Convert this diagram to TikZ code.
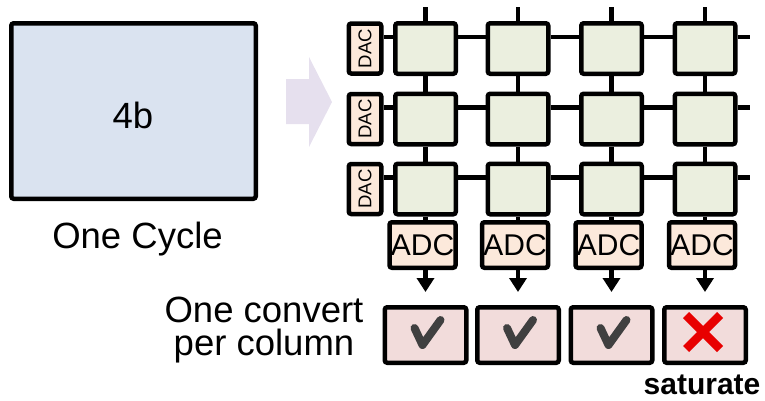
\documentclass[tikz,border=0pt]{standalone}
\usepackage{fontspec}
\setmainfont{Liberation Sans}
\usetikzlibrary{arrows.meta}

\definecolor{wordfill}{HTML}{DAE3F0}
\definecolor{flowfill}{HTML}{E6E0EE}
\definecolor{cellfill}{HTML}{EBEFDF}
\definecolor{convfill}{HTML}{FCE9DB}
\definecolor{resfill}{HTML}{F2DCDB}
\definecolor{okgray}{HTML}{404040}
\definecolor{badred}{HTML}{E80000}

\tikzset{
  box/.style={draw=black, line width=4.5pt, rounded corners=2.5pt, inner sep=0pt},
  cellbox/.style={box, fill=cellfill, minimum width=60.5pt, minimum height=50.5pt},
  dacbox/.style={box, fill=convfill, minimum width=32.5pt, minimum height=50pt,
                 font=\fontsize{18.5}{18}\selectfont},
  adcbox/.style={box, fill=convfill, minimum width=66pt, minimum height=45.5pt,
                 font=\fontsize{30}{30}\selectfont},
  resbox/.style={box, fill=resfill, minimum width=81.5pt, minimum height=55.5pt},
  wire/.style={line width=4.5pt},
  outarrow/.style={line width=4.5pt, -{Triangle[width=17pt,length=14pt]}},
  tick/.style={line width=8pt, okgray, line cap=round, line join=round},
  cross/.style={line width=8.5pt, badred},
  label/.style={font=\fontsize{36.5}{33}\selectfont, inner sep=0pt},
}

\begin{document}
\begin{tikzpicture}[x=1pt, y=-1pt]
  \useasboundingbox (0,0) rectangle (765,400);

  % single 4-bit word processed in one cycle
  \node[box, fill=wordfill, minimum width=244.5pt, minimum height=175.5pt] (word) at (133.5,111) {};
  \node[label, anchor=base] (four) at (133,128) {4b};
  \node[label, anchor=base] (cycle) at (137.5,248) {One Cycle};

  % block arrow
  \fill[flowfill] (286,79) -- (309,79) -- (309,57) -- (332,102) -- (309,147) -- (309,124) -- (286,124) -- cycle;

  % crossbar cells
  \foreach \r/\y in {1/48.5, 2/119, 3/189} {
    \foreach \c/\x in {1/425.5, 2/518, 3/611.5, 4/705} {
      \node[cellbox] (c\r\c) at (\x,\y) {};
    }
    \node[dacbox] (d\r) at (365,\y) {\rotatebox{90}{DAC}};
    \coordinate (e\r) at (750,\y-11.5);
  }

  % row wires
  \foreach \r in {1,2,3} {
    \draw[wire] ([yshift=11.5pt]d\r.east) -- ([yshift=11.5pt]c\r1.west);
    \draw[wire] ([yshift=11.5pt]c\r1.east) -- ([yshift=11.5pt]c\r2.west);
    \draw[wire] ([yshift=11.5pt]c\r2.east) -- ([yshift=11.5pt]c\r3.west);
    \draw[wire] ([yshift=11.5pt]c\r3.east) -- ([yshift=11.5pt]c\r4.west);
    \draw[wire] ([yshift=11.5pt]c\r4.east) -- (e\r);
  }

  % column wires, converters and results
  \foreach \c/\x in {1/425.5, 2/518, 3/611.5, 4/705} {
    \coordinate (t\c) at (\x,7);
    \draw[wire] (t\c) -- (c1\c.north);
    \draw[wire] (c1\c.south) -- (c2\c.north);
    \draw[wire] (c2\c.south) -- (c3\c.north);
    \node[adcbox] (a\c) at (\x-3,245) {ADC};
    \draw[wire] (c3\c.south) -- (c3\c.south |- a\c.north);
    \node[resbox] (r\c) at (\x,335) {};
    \draw[outarrow, shorten >=13pt] (a\c.south -| r\c) -- (r\c.north);
  }

  % check marks and the saturated cross
  \foreach \c in {1,2,3} {
    \draw[tick] ([shift={(-11pt,7pt)}]r\c.center) -- ([shift={(-3pt,-10pt)}]r\c.center)
                -- ([shift={(15pt,15pt)}]r\c.center);
  }
  \draw[cross] ([shift={(-19pt,20pt)}]r4.center) -- ([shift={(15pt,-14pt)}]r4.center);
  \draw[cross] ([shift={(-19pt,-14pt)}]r4.center) -- ([shift={(15pt,20pt)}]r4.center);

  \node[font=\fontsize{30}{30}\selectfont\bfseries, inner sep=0pt, anchor=base] (sat) at (702,394) {saturate};

  \node[label, align=center, anchor=base] (conv) at (264,355) {One convert\\per column};
\end{tikzpicture}
\end{document}
